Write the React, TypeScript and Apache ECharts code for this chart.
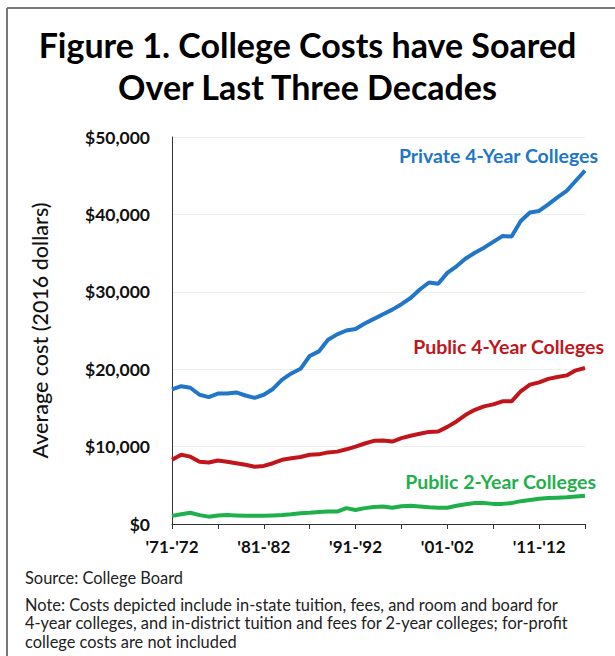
import React, { useEffect, useRef } from "react";
import * as echarts from "echarts";

const categories = [
  "'71-'72", "'72-'73", "'73-'74", "'74-'75", "'75-'76", "'76-'77", "'77-'78", "'78-'79", "'79-'80", "'80-'81",
  "'81-'82", "'82-'83", "'83-'84", "'84-'85", "'85-'86", "'86-'87", "'87-'88", "'88-'89", "'89-'90", "'90-'91",
  "'91-'92", "'92-'93", "'93-'94", "'94-'95", "'95-'96", "'96-'97", "'97-'98", "'98-'99", "'99-'00", "'00-'01",
  "'01-'02", "'02-'03", "'03-'04", "'04-'05", "'05-'06", "'06-'07", "'07-'08", "'08-'09", "'09-'10", "'10-'11",
  "'11-'12", "'12-'13", "'13-'14", "'14-'15", "'15-'16", "'16-'17",
];

const private4 = [
  17400, 17800, 17600, 16700, 16400, 16850, 16850, 17000, 16600, 16300,
  16700, 17450, 18650, 19450, 20050, 21700, 22300, 23800, 24500, 25000,
  25200, 25900, 26500, 27100, 27700, 28400, 29200, 30300, 31200, 31050,
  32450, 33300, 34300, 35050, 35700, 36450, 37200, 37150, 39150, 40250,
  40450, 41300, 42200, 43050, 44350, 45650,
];

const public4 = [
  8300, 8950, 8700, 8050, 7950, 8200, 8050, 7850, 7650, 7400,
  7500, 7850, 8300, 8500, 8650, 8950, 9000, 9250, 9350, 9650,
  10000, 10400, 10750, 10800, 10650, 11100, 11400, 11650, 11900, 11950,
  12550, 13250, 14100, 14750, 15200, 15450, 15850, 15850, 17150, 18000,
  18300, 18750, 19000, 19200, 19850, 20150,
];

const public2 = [
  1050, 1250, 1450, 1150, 950, 1100, 1150, 1100, 1050, 1050,
  1050, 1100, 1150, 1250, 1400, 1450, 1550, 1600, 1600, 2050,
  1800, 2050, 2200, 2250, 2100, 2300, 2350, 2250, 2150, 2100,
  2100, 2350, 2550, 2700, 2700, 2600, 2600, 2700, 2950, 3100,
  3250, 3350, 3400, 3450, 3550, 3650,
];

const seriesNames = ["Private 4-Year Colleges", "Public 4-Year Colleges", "Public 2-Year Colleges"];
const titleText = "Figure 1. College Costs have Soared\nOver Last Three Decades";
const yAxisTitle = "Average cost (2016 dollars)";
const sourceText = "Source: College Board";
const noteLines = [
  "Note: Costs depicted include in-state tuition, fees, and room and board for",
  "4-year colleges, and in-district tuition and fees for 2-year colleges; for-profit",
  "college costs are not included",
];

const FONT = "Lato, 'Noto Sans', sans-serif";
const BLUE = "#2176C7";
const RED = "#C0161B";
const GREEN = "#1FB04B";

function fmt(v: number) {
  return "$" + String(v).replace(/\B(?=(\d{3})+(?!\d))/g, ",");
}

export default function App() {
  const ref = useRef<HTMLDivElement>(null);
  useEffect(() => {
    if (!ref.current) return;
    const chart = echarts.init(ref.current, null, { renderer: "svg" });
    const mkSeries = (name: string, data: number[], color: string, off: number[]) => ({
      name,
      type: "line",
      data,
      symbol: "none",
      smooth: false,
      lineStyle: { color, width: 4 },
      itemStyle: { color },
      endLabel: {
        show: true,
        formatter: name,
        color,
        fontFamily: FONT,
        fontWeight: "bold",
        fontSize: 19.5,
        align: "right",
        offset: off,
      },
    });
    const noteTops = [595, 613, 632];
    const noteGraphics = noteLines.map((line, i) => ({
      type: "text",
      left: 25,
      top: noteTops[i],
      style: {
        text: line,
        fontFamily: FONT,
        fontSize: 16.4,
        lineHeight: 18,
        fill: "#222222",
      },
    }));
    chart.setOption({
      animation: false,
      backgroundColor: "#ffffff",
      title: {
        text: titleText,
        left: "center",
        top: 18,
        textStyle: {
          fontFamily: FONT,
          fontWeight: "bold",
          fontSize: 34,
          lineHeight: 42,
          color: "#000000",
        },
      },
      grid: { left: 172, right: 30, top: 137, bottom: 132, containLabel: false },
      xAxis: {
        type: "category",
        data: categories,
        boundaryGap: false,
        axisLine: { show: true, lineStyle: { color: "#333333", width: 1 } },
        axisTick: { show: true, interval: 4, length: 5, lineStyle: { color: "#333333" } },
        axisLabel: {
          interval: 9,
          margin: 14,
          fontFamily: FONT,
          fontWeight: "bold",
          fontSize: 17,
          color: "#111111",
        },
        splitLine: { show: false },
      },
      yAxis: {
        type: "value",
        min: 0,
        max: 50000,
        interval: 10000,
        name: yAxisTitle,
        nameLocation: "middle",
        nameRotate: 90,
        nameGap: 121,
        nameTextStyle: { fontFamily: FONT, fontSize: 21.5, color: "#111111", fontWeight: 500 },
        axisLine: { show: true, lineStyle: { color: "#333333", width: 1 } },
        axisTick: { show: false },
        axisLabel: {
          margin: 22,
          formatter: (v: number) => fmt(v),
          fontFamily: FONT,
          fontWeight: "bold",
          fontSize: 17.5,
          color: "#111111",
        },
        splitLine: { show: true, lineStyle: { color: "#eeeeee", width: 1 } },
      },
      series: [
        mkSeries(seriesNames[0], private4, BLUE, [5, -15]),
        mkSeries(seriesNames[1], public4, RED, [11, -22]),
        mkSeries(seriesNames[2], public2, GREEN, [3, -14]),
      ],
      graphic: [
        { type: "line", shape: { x1: 7, y1: 8, x2: 615, y2: 8 }, style: { stroke: "#777777", lineWidth: 2 } },
        { type: "line", shape: { x1: 7, y1: 8, x2: 7, y2: 656 }, style: { stroke: "#777777", lineWidth: 2 } },
        {
          type: "text",
          left: 25,
          top: 569,
          style: { text: sourceText, fontFamily: FONT, fontSize: 16.4, fill: "#222222" },
        },
        ...noteGraphics,
      ],
    });
    return () => chart.dispose();
  }, []);
  return (
    <div style={{ position: "fixed", left: 0, top: 0, width: 615, height: 656, background: "#fff" }}>
      <div ref={ref} style={{ width: 615, height: 656 }} />
    </div>
  );
}
